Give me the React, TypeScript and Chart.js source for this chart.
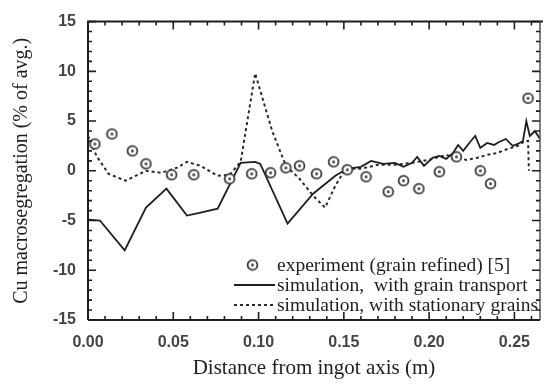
import React, { useEffect, useRef } from "react";
import { Chart, registerables } from "chart.js";

Chart.register(...registerables);

// Experiment (grain refined) [5]
const expX = [0.004, 0.014, 0.026, 0.034, 0.049, 0.062, 0.083, 0.096, 0.107, 0.116, 0.124, 0.134, 0.144, 0.152, 0.163, 0.176, 0.185, 0.194, 0.206, 0.216, 0.230, 0.236, 0.258];
const expY = [2.7, 3.7, 2.0, 0.7, -0.4, -0.4, -0.8, -0.3, -0.2, 0.3, 0.5, -0.3, 0.9, 0.1, -0.6, -2.1, -1.0, -1.8, -0.1, 1.4, 0.0, -1.3, 7.3];

// Simulation, with grain transport
const transX = [0.0, 0.007, 0.0215, 0.034, 0.046, 0.058, 0.066, 0.076, 0.0895, 0.098, 0.101, 0.117, 0.132, 0.145, 0.152, 0.160, 0.166, 0.173, 0.180, 0.185, 0.190, 0.193, 0.197, 0.202, 0.206, 0.210, 0.214, 0.217, 0.220, 0.224, 0.227, 0.230, 0.234, 0.238, 0.241, 0.245, 0.249, 0.252, 0.255, 0.257, 0.259, 0.262, 0.265];
const transY = [-4.9, -5.0, -8.0, -3.7, -1.8, -4.5, -4.2, -3.8, 0.8, 0.9, 0.7, -5.3, -2.3, -0.5, 0.2, 0.4, 1.0, 0.7, 0.8, 0.4, 0.8, 1.4, 0.5, 1.3, 1.5, 1.2, 1.8, 2.6, 2.0, 2.9, 3.5, 2.3, 2.8, 2.6, 2.9, 3.2, 2.5, 2.7, 3.0, 5.0, 3.5, 4.0, 3.2];

// Simulation, with stationary grains
const statX = [0.0, 0.005, 0.012, 0.022, 0.034, 0.043, 0.052, 0.058, 0.066, 0.076, 0.083, 0.0895, 0.098, 0.108, 0.116, 0.124, 0.132, 0.139, 0.145, 0.151, 0.160, 0.170, 0.180, 0.190, 0.200, 0.210, 0.216, 0.222, 0.228, 0.234, 0.240, 0.246, 0.252, 0.256, 0.258, 0.2585];
const statY = [3.5, 1.5, -0.3, -1.0, 0.0, -0.2, 0.3, 0.9, 0.5, -0.5, -0.4, 0.9, 9.8, 4.0, 0.5, -0.8, -2.5, -3.7, -1.5, 0.2, 0.2, 0.6, 0.6, 0.8, 1.1, 1.6, 1.3, 1.1, 1.3, 1.6, 1.8, 2.2, 2.5, 3.0, 3.0, 0.0];

const xTickValues = [0, 0.05, 0.1, 0.15, 0.2, 0.25];
const yTickValues = [-15, -10, -5, 0, 5, 10, 15];

const legendLabels = [
  "experiment (grain refined) [5]",
  "simulation,  with grain transport",
  "simulation, with stationary grains",
];

const toPts = (xs: number[], ys: number[]) => xs.map((x, i) => ({ x, y: ys[i] }));

function makeMarker(): HTMLCanvasElement {
  const c = document.createElement("canvas");
  c.width = 13;
  c.height = 13;
  const g = c.getContext("2d")!;
  g.beginPath();
  g.arc(6.5, 6.5, 4.9, 0, Math.PI * 2);
  g.fillStyle = "#ffffff";
  g.fill();
  g.lineWidth = 1.8;
  g.strokeStyle = "#3a3a3a";
  g.stroke();
  g.beginPath();
  g.arc(6.5, 6.5, 1.5, 0, Math.PI * 2);
  g.fillStyle = "#444";
  g.fill();
  return c;
}

const INK = "#1e1e1e";

const framePlugin = {
  id: "frameTicks",
  afterDraw(chart: any) {
    const { ctx, chartArea: ca } = chart;
    const xs = chart.scales.x;
    const ys = chart.scales.y;
    ctx.save();
    ctx.strokeStyle = INK;
    // frame
    ctx.lineWidth = 2;
    ctx.beginPath();
    ctx.moveTo(ca.left, ca.bottom);
    ctx.lineTo(ca.left, ca.top);
    ctx.lineTo(ca.right + 3, ca.top);
    ctx.moveTo(ca.left, ca.bottom);
    ctx.lineTo(ca.right, ca.bottom);
    ctx.stroke();
    ctx.lineWidth = 1.5;
    ctx.strokeStyle = "#555";
    ctx.beginPath();
    ctx.moveTo(ca.right, ca.top);
    ctx.lineTo(ca.right, ca.bottom);
    ctx.stroke();
    ctx.strokeStyle = INK;
    ctx.lineWidth = 1.6;
    // x ticks (minor every 0.01)
    ctx.beginPath();
    for (let i = 0; i <= 26; i++) {
      const v = i / 100;
      const px = xs.getPixelForValue(v);
      const major = i % 5 === 0;
      const len = major ? 8 : 4;
      ctx.moveTo(px, ca.bottom);
      ctx.lineTo(px, ca.bottom - len);
      ctx.moveTo(px, ca.top);
      ctx.lineTo(px, ca.top + len);
    }
    // y ticks (minor every 1)
    for (let v = -15; v <= 15; v++) {
      const py = ys.getPixelForValue(v);
      const major = v % 5 === 0;
      const len = major ? 8 : 4;
      ctx.moveTo(ca.left, py);
      ctx.lineTo(ca.left + len, py);
      ctx.moveTo(ca.right, py);
      ctx.lineTo(ca.right - len, py);
    }
    ctx.stroke();

    // legend
    const ds = chart.data.datasets;
    const textX = ca.right - 263;
    const symL = ca.right - 306;
    const symR = ca.right - 265;
    const rows = [ca.bottom - 55, ca.bottom - 35, ca.bottom - 15];
    ctx.font = "19.5px 'Liberation Serif'";
    ctx.fillStyle = INK;
    ctx.textBaseline = "middle";
    ctx.textAlign = "left";
    rows.forEach((ry, i) => {
      const d = ds[i];
      if (i === 0) {
        ctx.drawImage(d.pointStyle, (symL + symR) / 2 - 6.5 - 2, ry - 6.5);
      } else {
        ctx.beginPath();
        ctx.setLineDash(d.borderDash || []);
        ctx.lineWidth = d.borderWidth;
        ctx.strokeStyle = d.borderColor;
        ctx.moveTo(symL, ry);
        ctx.lineTo(symR, ry);
        ctx.stroke();
        ctx.setLineDash([]);
      }
      ctx.fillText(legendLabels[i], textX, ry + 1);
    });
    ctx.restore();
  },
};

export default function App() {
  const ref = useRef<HTMLCanvasElement | null>(null);
  useEffect(() => {
    const marker = makeMarker();
    const chart = new Chart(ref.current!, {
      type: "scatter",
      data: {
        datasets: [
          {
            label: legendLabels[0],
            data: toPts(expX, expY),
            pointStyle: marker as any,
            pointRadius: 6,
            showLine: false,
            order: 0,
          } as any,
          {
            label: legendLabels[1],
            data: toPts(transX, transY),
            showLine: true,
            borderColor: INK,
            borderWidth: 1.8,
            pointRadius: 0,
            fill: false,
            order: 1,
          },
          {
            label: legendLabels[2],
            data: toPts(statX, statY),
            showLine: true,
            borderColor: "#2a2a2a",
            borderWidth: 2,
            borderDash: [3, 3],
            pointRadius: 0,
            fill: false,
            order: 2,
          },
        ],
      },
      options: {
        responsive: false,
        animation: false,
        layout: { padding: { top: 20, right: 3, left: 0, bottom: 0 } },
        plugins: { legend: { display: false }, tooltip: { enabled: false } },
        scales: {
          x: {
            type: "linear",
            min: 0,
            max: 0.265,
            afterFit: (s: any) => { s.height = 64; },
            afterBuildTicks: (s: any) => { s.ticks = xTickValues.map((v) => ({ value: v })); },
            ticks: {
              includeBounds: false,
              callback: (v: any) => Number(v).toFixed(2),
              font: { family: "'Liberation Sans'", size: 16, weight: "bold" },
              color: "#444",
              padding: 13,
              maxRotation: 0,
              autoSkip: false,
            },
            grid: { display: false, drawTicks: false },
            border: { display: false },
            title: {
              display: true,
              text: "Distance from ingot axis (m)",
              font: { family: "'Liberation Serif'", size: 21 },
              color: INK,
              padding: { top: 3, bottom: 3 },
            },
          },
          y: {
            type: "linear",
            min: -15,
            max: 15,
            afterFit: (s: any) => { s.width = 88; },
            afterBuildTicks: (s: any) => { s.ticks = yTickValues.map((v) => ({ value: v })); },
            ticks: {
              callback: (v: any) => String(v),
              font: { family: "'Liberation Sans'", size: 16, weight: "bold" },
              color: "#444",
              padding: 12,
              autoSkip: false,
            },
            grid: { display: false, drawTicks: false },
            border: { display: false },
            title: {
              display: true,
              text: "Cu macrosegregation (% of avg.)",
              font: { family: "'Liberation Serif'", size: 20 },
              color: INK,
              padding: { top: 10, bottom: 2 },
            },
          },
        },
      },
      plugins: [framePlugin],
    });
    return () => chart.destroy();
  }, []);
  return (
    <div style={{ position: "fixed", left: 0, top: 0, width: 547, height: 384, background: "#fff" }}>
      <canvas ref={ref} width={547} height={384} />
    </div>
  );
}
